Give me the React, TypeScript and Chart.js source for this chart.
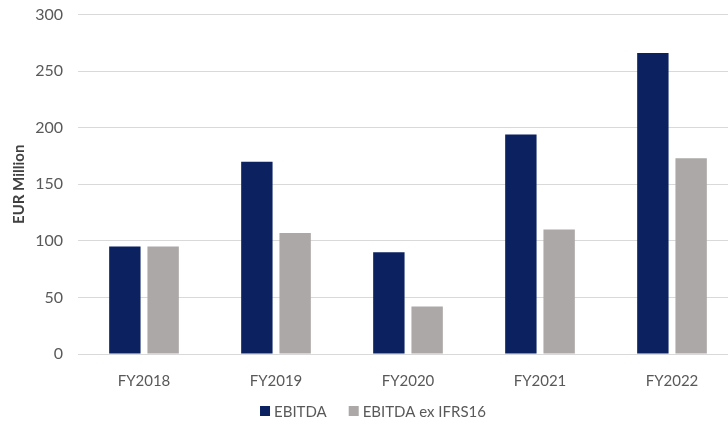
import React, { useEffect, useRef } from "react";
import { Chart, registerables } from "chart.js";

Chart.register(...registerables);

const categories = ["FY2018", "FY2019", "FY2020", "FY2021", "FY2022"];
const ebitda = [95, 170, 90, 194, 266];
const ebitdaExIfrs16 = [95, 107, 42, 110, 173];
const yTicks = [0, 50, 100, 150, 200, 250, 300];

const NAVY = "#0B2160";
const GREY = "#ABA8A7";
const TEXT = "#595959";
const FONT = "Lato, 'Open Sans', sans-serif";

// Canvas is drawn a little larger than the visible frame and shifted up.
const SHIFT_Y = 10;

// Bottom legend drawn as a single centred row: square swatch + label per dataset.
const bottomLegend = {
  id: "bottomLegend",
  afterDraw(chart: any) {
    const ctx = chart.ctx as CanvasRenderingContext2D;
    const box = 10;
    const gapText = 4;
    const gapItem = 22;
    const y = 411 + SHIFT_Y;
    ctx.save();
    ctx.font = `15px ${FONT}`;
    ctx.textBaseline = "middle";
    ctx.textAlign = "left";
    const items = chart.data.datasets.map((d: any) => ({
      label: d.label as string,
      color: d.backgroundColor as string,
      w: box + gapText + ctx.measureText(d.label).width,
    }));
    const total =
      items.reduce((s: number, it: any) => s + it.w, 0) + gapItem * (items.length - 1);
    let x = chart.width / 2 - total / 2;
    for (const it of items) {
      ctx.fillStyle = it.color;
      ctx.fillRect(x, y - box / 2, box, box);
      ctx.fillStyle = TEXT;
      ctx.fillText(it.label, x + box + gapText, y + 1);
      x += it.w + gapItem;
    }
    ctx.restore();
  },
};

export default function App() {
  const canvasRef = useRef<HTMLCanvasElement | null>(null);

  useEffect(() => {
    document.body.style.margin = "0";
    const canvas = canvasRef.current;
    if (!canvas) return;
    const chart = new Chart(canvas, {
      type: "bar",
      data: {
        labels: categories,
        datasets: [
          {
            label: "EBITDA",
            data: ebitda,
            backgroundColor: NAVY,
            categoryPercentage: 0.58,
            barPercentage: 0.82,
          },
          {
            label: "EBITDA ex IFRS16",
            data: ebitdaExIfrs16,
            backgroundColor: GREY,
            categoryPercentage: 0.58,
            barPercentage: 0.82,
          },
        ],
      },
      plugins: [bottomLegend],
      options: {
        animation: false,
        responsive: false,
        maintainAspectRatio: false,
        layout: { padding: { left: 0, right: 8, top: 0, bottom: 27 } },
        plugins: {
          legend: { display: false },
          tooltip: { enabled: false },
        },
        scales: {
          x: {
            grid: { display: false },
            border: { display: true, color: "#D9D9D9" },
            ticks: {
              color: TEXT,
              padding: 10,
              font: { family: FONT, size: 15 },
            },
          },
          y: {
            min: 0,
            max: 300,
            afterBuildTicks: (scale: any) => {
              scale.ticks = yTicks.map((v) => ({ value: v }));
            },
            afterFit: (scale: any) => {
              scale.width = 78;
            },
            grid: { color: "#D9D9D9", drawTicks: false, lineWidth: 1 },
            border: { display: false },
            ticks: {
              color: TEXT,
              padding: 15,
              font: { family: FONT, size: 16 },
            },
            title: {
              display: true,
              text: "EUR Million",
              color: "#404040",
              padding: { top: 10, bottom: 0 },
              font: { family: FONT, size: 15, weight: "bold" },
            },
          },
        },
      },
    });
    return () => chart.destroy();
  }, []);

  return (
    <div
      style={{
        position: "fixed",
        left: 0,
        top: 0,
        width: 728,
        height: 427,
        overflow: "hidden",
        background: "#fff",
      }}
    >
      <canvas
        ref={canvasRef}
        width={746}
        height={427 + SHIFT_Y}
        style={{ display: "block", marginTop: -SHIFT_Y }}
      />
    </div>
  );
}
